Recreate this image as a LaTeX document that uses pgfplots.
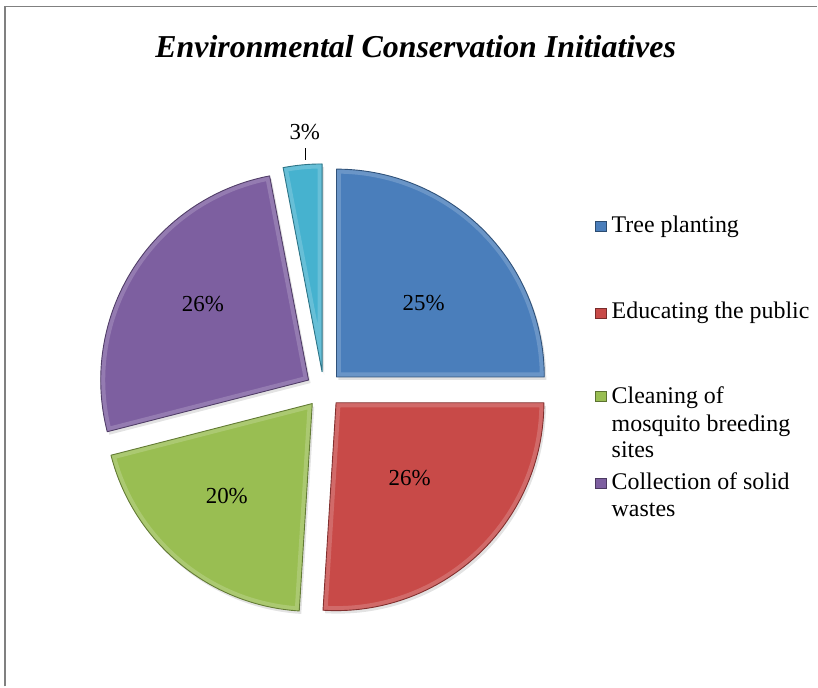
\documentclass[border=0pt]{standalone}
\usepackage{fontspec}
\setmainfont{Liberation Serif}
\usepackage{pgfplots}
\usepackage{pgfplotstable}
\pgfplotsset{compat=1.18}
\usetikzlibrary{shadows,calc}
\definecolor{cBlue}{HTML}{4A7EBB}
\definecolor{cRed}{HTML}{C84A48}
\definecolor{cGreen}{HTML}{99BE52}
\definecolor{cPurple}{HTML}{7D5FA0}
\definecolor{cCyan}{HTML}{46B2CF}
\pgfplotstableread{
name value col lx ly
Tree 25 cBlue 424 384
Educating 26 cRed 410 209
Cleaning 20 cGreen 227 191
Collection 26 cPurple 203 383
Other 3 cCyan 305 555
}\piedata
\begin{document}
\begin{tikzpicture}
\begin{axis}[width=818bp, height=687bp, scale only axis,
  xmin=0, xmax=818, ymin=0, ymax=687, axis lines=none, clip=false]
\addplot[draw=none, forget plot] coordinates {(0,0) (818,687)};
\pgfplotsextra{
  \def\cx{324}\def\cy{297}
  \gdef\cum{0}
  \foreach \i in {0,...,4} {
    \pgfplotstablegetelem{\i}{value}\of\piedata \edef\v{\pgfplotsretval}
    \pgfplotstablegetelem{\i}{col}\of\piedata \edef\c{\pgfplotsretval}
    \pgfplotstablegetelem{\i}{lx}\of\piedata \edef\lx{\pgfplotsretval}
    \pgfplotstablegetelem{\i}{ly}\of\piedata \edef\ly{\pgfplotsretval}
    \pgfmathsetmacro\aA{90-3.6*\cum}
    \pgfmathsetmacro\aB{90-3.6*(\cum+\v)}
    \pgfmathsetmacro\am{(\aA+\aB)/2}
    \pgfmathsetmacro\newcum{\cum+\v}
    \xdef\cum{\newcum}
    \fill[\c, drop shadow={opacity=0.22, shadow xshift=2bp, shadow yshift=-3bp}]
      (axis cs:\cx,\cy) ++(\am:18bp) -- ++(\aA:208bp)
      arc[start angle=\aA, end angle=\aB, radius=208bp] -- cycle;
    \begin{scope}
      \clip (axis cs:\cx,\cy) ++(\am:18bp) -- ++(\aA:208bp)
        arc[start angle=\aA, end angle=\aB, radius=208bp] -- cycle;
      \draw[white, opacity=0.18, line width=9bp, line join=round]
        (axis cs:\cx,\cy) ++(\am:18bp) -- ++(\aA:208bp)
        arc[start angle=\aA, end angle=\aB, radius=208bp] -- cycle;
    \end{scope}
    \draw[\c!65!black, line width=0.9bp, line join=round]
      (axis cs:\cx,\cy) ++(\am:18bp) -- ++(\aA:208bp)
      arc[start angle=\aA, end angle=\aB, radius=208bp] -- cycle;
    \ifnum\i<4
      \node[font=\fontsize{23}{27}\selectfont] at (axis cs:\lx,\ly) {\v\%};
    \else
      \draw[black, line width=1bp] (axis cs:306,527) -- (axis cs:306,539);
      \node[font=\fontsize{23}{27}\selectfont] at (axis cs:\lx,\ly) {\v\%};
    \fi
  }
}
% frame
\draw[gray, line width=1.3bp] (axis cs:5,0) -- (axis cs:5,680.5) -- (axis cs:818,680.5);
% title
\node[font=\fontsize{32}{36}\selectfont\bfseries\itshape, anchor=base] at (axis cs:416,629) {Environmental Conservation Initiatives};
% legend
\begin{scope}[every node/.style={font=\fontsize{24}{27}\selectfont, anchor=base west, inner sep=0pt}]
\fill[cBlue, draw=cBlue!60!black] (axis cs:596,456) rectangle (axis cs:607,466);
\node at (axis cs:612,454) {Tree planting};
\fill[cRed, draw=cRed!60!black] (axis cs:596,369) rectangle (axis cs:607,379);
\node at (axis cs:612,368) {Educating the public};
\fill[cGreen, draw=cGreen!60!black] (axis cs:596,285) rectangle (axis cs:607,295);
\node at (axis cs:612,283) {Cleaning of};
\node at (axis cs:612,255) {mosquito breeding};
\node at (axis cs:612,229) {sites};
\fill[cPurple, draw=cPurple!60!black] (axis cs:596,198) rectangle (axis cs:607,208);
\node at (axis cs:612,197) {Collection of solid};
\node at (axis cs:612,170) {wastes};
\end{scope}
\end{axis}
\end{tikzpicture}
\end{document}
